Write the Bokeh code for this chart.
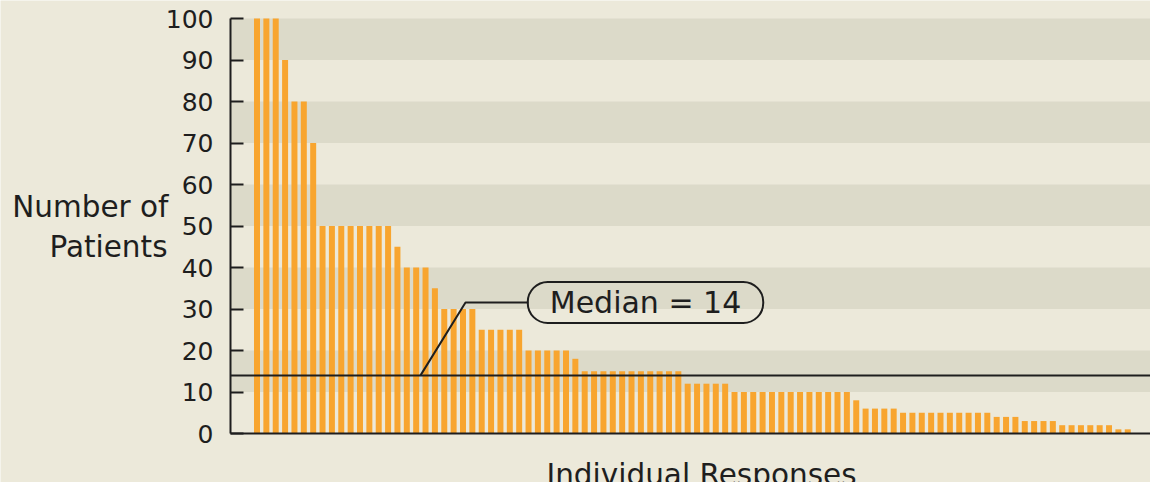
from bokeh.plotting import figure
from bokeh.models import BoxAnnotation, Label, FixedTicker, Range1d
from bokeh.embed import file_html
from bokeh.resources import INLINE

# ---------------- data ----------------
responses = [
    100, 100, 100, 90, 80, 80, 70,
    50, 50, 50, 50, 50, 50, 50, 50,
    45, 40, 40, 40, 35,
    30, 30, 30, 30,
    25, 25, 25, 25, 25,
    20, 20, 20, 20, 20, 18,
    15, 15, 15, 15, 15, 15, 15, 15, 15, 15, 15,
    12, 12, 12, 12, 12,
    10, 10, 10, 10, 10, 10, 10, 10, 10, 10, 10, 10, 10,
    8, 6, 6, 6, 6,
    5, 5, 5, 5, 5, 5, 5, 5, 5, 5,
    4, 4, 4,
    3, 3, 3, 3,
    2, 2, 2, 2, 2, 2,
    1, 1,
]
y_ticks = [0, 10, 20, 30, 40, 50, 60, 70, 80, 90, 100]
shaded_bands = [(10, 20), (30, 40), (50, 60), (70, 80), (90, 100)]
median_value = 14
median_text = "Median = 14"
y_title = ["Number of", "Patients"]
x_title = "Individual Responses"

# ---------------- style / layout ----------------
BG = "#ECE9DA"
BAND = "#DCDAC9"
ORANGE = "#F8A52F"
INK = "#1E1E1E"
FONT = "DejaVu Sans"

FIG_W, FIG_H = 1150, 482
PX_PER_X = 9.363          # pixel pitch of one response
FIRST_CENTER_PX = 256.5   # page x of first bar centre
AXIS_PX = 230             # page x of the value axis
ZERO_PX = 433             # page y of value 0
PX_PER_Y = 4.15


def sx(px):
    return (px - FIRST_CENTER_PX) / PX_PER_X


def sy(py):
    return (ZERO_PX - py) / PX_PER_Y


X_START, X_END = sx(0), sx(FIG_W)
Y_START, Y_END = sy(FIG_H), sy(0)

p = figure(
    width=FIG_W, height=FIG_H,
    output_backend="svg", toolbar_location=None,
    x_range=Range1d(X_START, X_END), y_range=Range1d(Y_START, Y_END),
    min_border_left=0, min_border_right=0, min_border_top=0, min_border_bottom=0,
    background_fill_color=BG, border_fill_color=BG,
    outline_line_color=None,
)
p.grid.visible = False

# value axis
ya = p.yaxis[0]
ya.fixed_location = sx(AXIS_PX)
ya.bounds = (0, 100)
ya.ticker = FixedTicker(ticks=y_ticks)
ya.major_tick_in = 13
ya.major_tick_out = 0
ya.minor_tick_in = 0
ya.minor_tick_out = 0
ya.axis_line_width = 2
ya.axis_line_color = INK
ya.major_tick_line_width = 2
ya.major_tick_line_color = INK
ya.major_label_text_font = FONT
ya.major_label_text_font_size = "25px"
ya.major_label_text_color = INK
ya.major_label_standoff = 17

# baseline axis
xa = p.xaxis[0]
xa.fixed_location = 0
xa.bounds = (sx(AXIS_PX), X_END)
xa.ticker = FixedTicker(ticks=[])
xa.major_tick_in = 0
xa.major_tick_out = 0
xa.minor_tick_in = 0
xa.minor_tick_out = 0
xa.axis_line_width = 2
xa.axis_line_color = INK
xa.major_label_text_font_size = "0px"

for lo, hi in shaded_bands:
    p.add_layout(BoxAnnotation(left=sx(AXIS_PX), bottom=lo, top=hi, fill_color=BAND,
                               fill_alpha=1.0, line_alpha=0, level="underlay"))

p.vbar(x=list(range(len(responses))), top=responses, bottom=0, width=0.64,
       fill_color=ORANGE, line_color=None)

# median line
p.segment(x0=[sx(AXIS_PX)], y0=[median_value], x1=[X_END], y1=[median_value],
          line_color=INK, line_width=2)

# callout connector
p.line(x=[sx(420), sx(465), sx(528)], y=[median_value, sy(302), sy(302)],
       line_color=INK, line_width=2)

p.add_layout(Label(
    x=sx(645), y=sy(302), text=median_text,
    text_align="center", text_baseline="middle",
    text_font=FONT, text_font_size="30px", text_color=INK,
    border_line_color=INK, border_line_width=2, border_radius=20,
    background_fill_color=None,
    padding=dict(left=22, right=22, top=3, bottom=3),
))

p.add_layout(Label(x=sx(168), y=sy(206), text=y_title[0], text_align="right",
                   text_baseline="alphabetic", text_font=FONT,
                   text_font_size="29.5px", text_color=INK))
p.add_layout(Label(x=sx(167), y=sy(246), text=y_title[1], text_align="right",
                   text_baseline="alphabetic", text_font=FONT,
                   text_font_size="29.5px", text_color=INK))
p.add_layout(Label(x=sx(701), y=sy(474), text=x_title, text_align="center",
                   text_baseline="alphabetic", text_font=FONT,
                   text_font_size="29.5px", text_color=INK))

open("out.html", "w").write(file_html(p, INLINE))
